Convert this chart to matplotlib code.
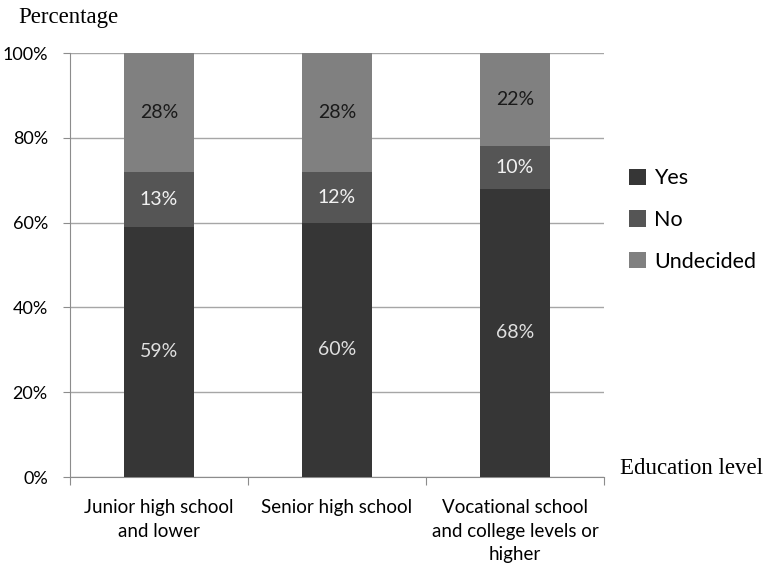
import matplotlib.pyplot as plt
import numpy as np

categories = ["Junior high school\nand lower", "Senior high school",
              "Vocational school\nand college levels or\nhigher"]
yes = [59, 60, 68]
no = [13, 12, 10]
undecided = [28, 28, 22]

series = [("Yes", yes, "#363636", "#e0e0e0"),
          ("No", no, "#555555", "#f2f2f2"),
          ("Undecided", undecided, "#808080", "#1a1a1a")]

label_font = "Lato"
title_font = "Liberation Serif"
axis_grey = "#8c8c8c"

fig = plt.figure(figsize=(7.65, 5.63), dpi=100)
ax = fig.add_axes([70 / 765, 1 - 477 / 563, (604 - 70) / 765, (477 - 53) / 563])

x = np.arange(len(categories))
bottom = np.zeros(len(categories))
for name, vals, color, txt in series:
    ax.bar(x, vals, width=0.395, bottom=bottom, color=color, label=name, zorder=3)
    for xi, b, v in zip(x, bottom, vals):
        ax.text(xi, b + v / 2, f"{v}%", ha="center", va="center", color=txt,
                fontsize=14, family=label_font, zorder=4)
    bottom += np.array(vals)

ax.set_xlim(-0.5, 2.5)
ax.set_ylim(0, 100)
ax.set_yticks(range(0, 101, 20))
ax.set_yticklabels([f"{v}%" for v in range(0, 101, 20)], family=label_font, fontsize=13)
ax.yaxis.grid(True, color="#a6a6a6", linewidth=1, zorder=0)
ax.tick_params(axis="y", length=5, color=axis_grey, pad=11)

# category labels sit between the boundary ticks
ax.set_xticks([-0.5, 0.5, 1.5, 2.5])
ax.set_xticklabels([])
ax.set_xticks(x, minor=True)
ax.set_xticklabels(categories, minor=True, family=label_font, fontsize=13.5,
                   linespacing=1.45)
ax.tick_params(axis="x", which="major", length=6, color=axis_grey, direction="out")
ax.tick_params(axis="x", which="minor", length=0, pad=16)

for side in ["top", "right"]:
    ax.spines[side].set_visible(False)
ax.spines["left"].set_color(axis_grey)
ax.spines["bottom"].set_color(axis_grey)

fig.text(18 / 765, 1 - 18 / 563, "Percentage", family=title_font, fontsize=16.5,
         ha="left", va="center")
fig.text(620 / 765, 1 - 468 / 563, "Education level", family=title_font, fontsize=16.5,
         ha="left", va="center")

ax.legend(loc="center left", bbox_to_anchor=(629 / 765, 1 - 220 / 563),
          bbox_transform=fig.transFigure, frameon=False, borderaxespad=0, borderpad=0,
          prop={"family": label_font, "size": 15.5}, handlelength=0.8, handleheight=0.8,
          handletextpad=0.35, labelspacing=1.0)

fig.savefig("out.png", dpi=100)
